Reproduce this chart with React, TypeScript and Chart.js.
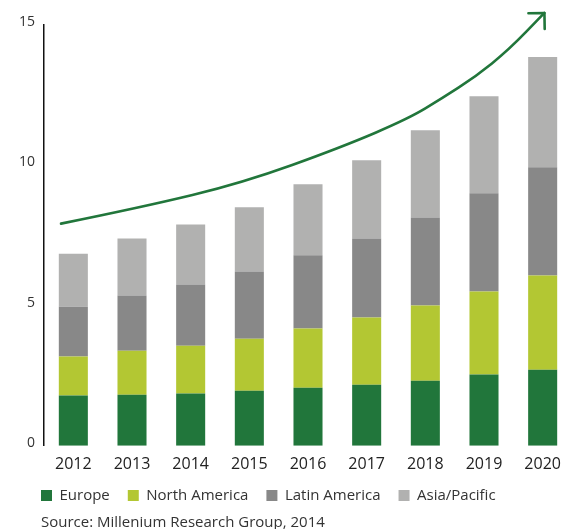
import React, { useEffect, useRef } from "react";
import { Chart, registerables } from "chart.js";

Chart.register(...registerables);

const years = ["2012", "2013", "2014", "2015", "2016", "2017", "2018", "2019", "2020"];
const europe = [1.79, 1.82, 1.86, 1.96, 2.07, 2.18, 2.32, 2.54, 2.71];
const northAmerica = [1.39, 1.57, 1.71, 1.86, 2.11, 2.39, 2.68, 2.96, 3.36];
const latinAmerica = [1.78, 1.97, 2.18, 2.39, 2.61, 2.82, 3.14, 3.5, 3.86];
const asiaPacific = [1.89, 2.03, 2.14, 2.29, 2.53, 2.79, 3.11, 3.46, 3.93];
const yTicks = [0, 5, 10, 15];
// growth-trend arrow path in data units: [category index, value]
const trendArrow: [number, number][] = [
  [-0.21, 7.92],
  [1.18, 8.51],
  [2.88, 9.37],
  [4.58, 10.65],
  [5.72, 11.67],
  [6.28, 12.38],
  [6.85, 13.15],
  [7.42, 14.11],
  [8.03, 15.43],
];
const SOURCE = "Source: Millenium Research Group, 2014";

const GREEN = "#21763b";
const FONT = "'Open Sans', 'Noto Sans', sans-serif";

const arrowPlugin = {
  id: "trendArrow",
  beforeLayout(chart: any) {
    const lg = chart.legend;
    if (lg && !lg.__patched) {
      const orig = lg.fit.bind(lg);
      lg.fit = function () {
        orig();
        this.height -= 8;
      };
      lg.__patched = true;
    }
  },
  afterLayout(chart: any) {
    // indent legend and source note to line up with the axis, and tighten the gaps
    if (chart.legend) {
      chart.legend.left += 23;
      chart.legend.right += 23;
      chart.legend.top -= 13;
      chart.legend.bottom -= 13;
    }
    chart.boxes.forEach((b: any) => {
      if (b.options && b.options.text === SOURCE) {
        b.left += 41;
        b.right += 41;
        b.top -= 8;
        b.bottom -= 8;
      }
    });
  },
  afterDatasetsDraw(chart: any) {
    const { ctx, scales } = chart;
    const pts = trendArrow.map(([i, v]) => [scales.x.getPixelForValue(i), scales.y.getPixelForValue(v)]);
    ctx.save();
    ctx.strokeStyle = GREEN;
    ctx.lineWidth = 2.6;
    ctx.lineCap = "round";
    ctx.lineJoin = "round";
    ctx.beginPath();
    ctx.moveTo(pts[0][0], pts[0][1]);
    for (let k = 1; k < pts.length - 1; k++) {
      const mx = (pts[k][0] + pts[k + 1][0]) / 2;
      const my = (pts[k][1] + pts[k + 1][1]) / 2;
      ctx.quadraticCurveTo(pts[k][0], pts[k][1], mx, my);
    }
    const tip = pts[pts.length - 1];
    ctx.lineTo(tip[0], tip[1]);
    ctx.stroke();
    const prev = pts[pts.length - 2];
    const ang = Math.atan2(tip[1] - prev[1], tip[0] - prev[0]);
    const len = 16;
    ctx.beginPath();
    ctx.moveTo(tip[0] - len * Math.cos(ang - Math.PI / 4), tip[1] - len * Math.sin(ang - Math.PI / 4));
    ctx.lineTo(tip[0], tip[1]);
    ctx.lineTo(tip[0] - len * Math.cos(ang + Math.PI / 4), tip[1] - len * Math.sin(ang + Math.PI / 4));
    ctx.stroke();
    ctx.restore();
  },
};

export default function App() {
  const ref = useRef<HTMLCanvasElement>(null);
  useEffect(() => {
    document.body.style.margin = "0";
    document.body.style.overflow = "hidden";
    const mk = (label: string, data: number[], color: string) => ({
      label,
      data,
      backgroundColor: color,
      borderWidth: 0,
      barPercentage: 0.495,
      categoryPercentage: 1,
    });
    const chart = new Chart(ref.current!, {
      type: "bar",
      data: {
        labels: years,
        datasets: [
          mk("Europe", europe, GREEN),
          mk("North America", northAmerica, "#b3c733"),
          mk("Latin America", latinAmerica, "#888888"),
          mk("Asia/Pacific", asiaPacific, "#b1b1b0"),
        ],
      },
      options: {
        animation: false,
        responsive: false,
        devicePixelRatio: 1,
        layout: { padding: { top: 25, left: 0, right: 0, bottom: 0 } },
        plugins: {
          legend: {
            position: "bottom",
            align: "start",
            labels: {
              boxWidth: 11,
              boxHeight: 11,
              padding: 18,
              color: "#333",
              font: { family: FONT, size: 15 },
            },
          },
          subtitle: {
            display: true,
            position: "bottom",
            align: "start",
            text: SOURCE,
            color: "#333",
            font: { family: FONT, size: 15 },
            padding: { top: 4, bottom: -11 },
          },
          tooltip: { enabled: false },
        },
        scales: {
          x: {
            stacked: true,
            grid: { display: false, drawTicks: false },
            border: { display: false },
            ticks: { color: "#222", font: { family: FONT, size: 16 }, padding: 9 },
          },
          y: {
            stacked: true,
            min: 0,
            max: 15,
            afterBuildTicks: (s: any) => {
              s.ticks = yTicks.map((v) => ({ value: v }));
            },
            afterFit: (s: any) => {
              s.width = 44;
            },
            grid: { display: false, drawTicks: false },
            border: { display: true, color: "#111", width: 1.5 },
            ticks: {
              color: "#333",
              font: { family: FONT, size: 14 },
              padding: 9,
              labelOffset: -3,
            },
          },
        },
      },
      plugins: [arrowPlugin],
    });
    return () => chart.destroy();
  }, []);
  return (
    <div style={{ width: 572, height: 529 }}>
      <canvas ref={ref} width={572} height={529} />
    </div>
  );
}
